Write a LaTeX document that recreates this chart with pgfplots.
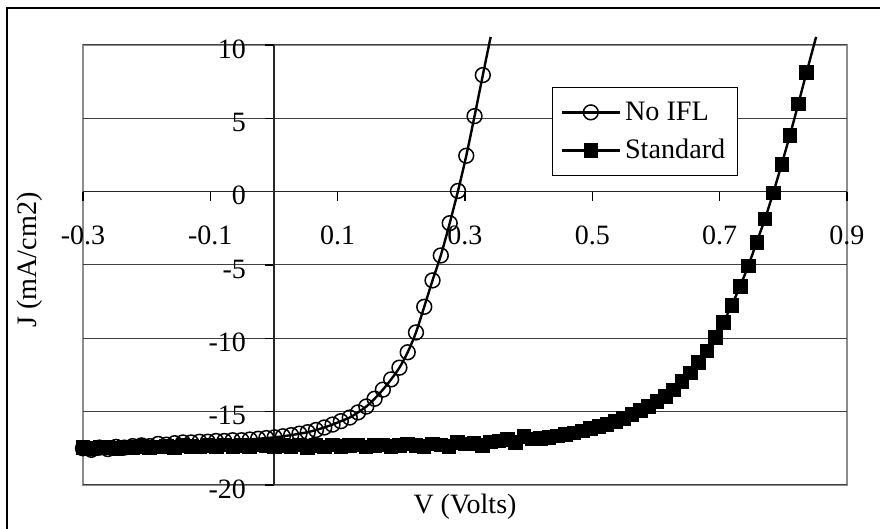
\documentclass[border=0pt]{standalone}
\usepackage{pgfplots}
\pgfplotsset{compat=1.18}
\usepackage{pgfplotstable}
\usepackage{fontspec}
\setmainfont{Liberation Serif}

\pgfplotstableread{
V J
-0.300 -17.50
-0.287 -17.60
-0.274 -17.45
-0.261 -17.55
-0.248 -17.40
-0.235 -17.45
-0.222 -17.35
-0.208 -17.30
-0.195 -17.35
-0.182 -17.20
-0.169 -17.25
-0.156 -17.15
-0.143 -17.10
-0.130 -17.10
-0.117 -17.05
-0.104 -17.05
-0.091 -17.00
-0.078 -17.00
-0.065 -16.95
-0.051 -16.95
-0.038 -16.90
-0.025 -16.85
-0.012 -16.80
0.001 -16.75
0.014 -16.68
0.027 -16.60
0.040 -16.50
0.053 -16.40
0.066 -16.25
0.079 -16.08
0.092 -15.88
0.105 -15.65
0.119 -15.40
0.132 -15.05
0.145 -14.65
0.158 -14.12
0.171 -13.50
0.184 -12.80
0.197 -12.00
0.210 -10.95
0.223 -9.60
0.236 -7.85
0.249 -6.05
0.262 -4.35
0.276 -2.15
0.289 0.05
0.302 2.45
0.315 5.15
0.328 7.95
}\noifl

\pgfplotstableread{
V J
0.328 7.95
0.3403 10.55
}\noiflext

\pgfplotstableread{
V J
-0.3000 -17.45
-0.2869 -17.50
-0.2739 -17.40
-0.2608 -17.45
-0.2477 -17.50
-0.2347 -17.40
-0.2216 -17.45
-0.2086 -17.35
-0.1955 -17.45
-0.1824 -17.40
-0.1694 -17.35
-0.1563 -17.45
-0.1432 -17.30
-0.1302 -17.35
-0.1171 -17.40
-0.1041 -17.30
-0.0910 -17.35
-0.0779 -17.25
-0.0649 -17.40
-0.0518 -17.30
-0.0387 -17.35
-0.0257 -17.25
-0.0126 -17.30
0.0004 -17.40
0.0135 -17.30
0.0266 -17.35
0.0396 -17.25
0.0527 -17.45
0.0658 -17.30
0.0788 -17.40
0.0919 -17.25
0.1050 -17.35
0.1180 -17.30
0.1311 -17.25
0.1441 -17.40
0.1572 -17.30
0.1703 -17.25
0.1833 -17.35
0.1964 -17.30
0.2095 -17.20
0.2225 -17.30
0.2356 -17.35
0.2486 -17.20
0.2617 -17.25
0.2748 -17.35
0.2878 -17.10
0.3009 -17.20
0.3139 -17.15
0.3270 -17.30
0.3401 -17.05
0.3531 -17.00
0.3662 -16.90
0.3793 -17.10
0.3923 -16.70
0.4054 -16.85
0.4184 -16.80
0.4315 -16.75
0.4446 -16.65
0.4576 -16.55
0.4707 -16.45
0.4838 -16.30
0.4968 -16.15
0.5099 -16.00
0.5230 -15.85
0.5360 -15.65
0.5491 -15.45
0.5622 -15.20
0.5752 -14.90
0.5883 -14.65
0.6013 -14.30
0.6144 -13.95
0.6275 -13.50
0.6405 -12.95
0.6536 -12.35
0.6667 -11.65
0.6797 -10.85
0.6928 -9.95
0.7058 -8.90
0.7189 -7.75
0.7320 -6.45
0.7450 -5.05
0.7581 -3.45
0.7712 -1.85
0.7842 -0.07
0.7973 1.85
0.8104 3.86
0.8235 5.98
0.8365 8.14
}\standard

\pgfplotstableread{
V J
0.8365 8.14
0.8515 10.55
}\standardext

\begin{document}
\begin{tikzpicture}
\begin{axis}[
  at={(0,0)}, anchor=south west,
  scale only axis, width=382pt, height=220pt,
  xmin=-0.3, xmax=0.9, ymin=-20, ymax=10,
  axis lines=middle,
  axis line style={-, black!85, line width=0.6pt},
  axis background/.style={draw=black!45, line width=0.9pt},
  xtick={-0.3,-0.1,0.1,0.3,0.5,0.7,0.9},
  xticklabels={-0.3,-0.1,0.1,0.3,0.5,0.7,0.9},
  ytick={-20,-15,-10,-5,0,5,10},
  yticklabels={-20,-15,-10,-5,0,5,10},
  hide obscured x ticks=false,
  hide obscured y ticks=false,
  tick align=outside,
  major tick length=4.5pt,
  tick style={black, line width=0.6pt},
  ymajorgrids, grid style={black!75, line width=0.5pt},
  ticklabel style={font=\fontsize{14}{16}\selectfont},
  xticklabel style={yshift=-9pt},
  yticklabel style={xshift=-6pt, yshift=-2pt},
  clip=false,
  legend style={at={(rel axis cs:0.6139,0.9045)}, anchor=north west,
    draw=black, line width=0.6pt, fill=white,
    font=\fontsize{14.1}{17}\selectfont,
    inner xsep=4pt, inner ysep=5pt, row sep=4pt},
  legend cell align=left,
  legend image code/.code={\draw[mark repeat=2,mark phase=2,#1] plot coordinates {(0pt,0pt) (14.5pt,0pt) (29pt,0pt)};},
]
\addplot[black, line width=1.2pt, smooth, mark=o, mark size=3.7pt, mark options={line width=0.75pt, solid}] table[x=V,y=J] {\noifl};
\addlegendentry{No IFL}
\addplot[black, line width=1.2pt, smooth, mark=square*, mark size=3.4pt, mark options={solid, line width=0.3pt}] table[x=V,y=J] {\standard};
\addlegendentry{Standard}
\addplot[black, line width=1.2pt, forget plot] table[x=V,y=J] {\noiflext};
\addplot[black, line width=1.2pt, forget plot] table[x=V,y=J] {\standardext};
\node[font=\fontsize{14}{16}\selectfont, anchor=north, inner sep=0pt] at (rel axis cs:0.5,-0.02) {V (Volts)};
\node[font=\fontsize{14.1}{17}\selectfont, rotate=90, inner sep=0pt] at (rel axis cs:-0.06937,0.5114) {J (mA/cm2)};
\end{axis}
\draw[line width=1pt] (-38pt,-40pt) -- (-38pt,238.5pt) -- (420pt,238.5pt);
\pgfresetboundingbox
\useasboundingbox (-41.5pt,-22pt) rectangle (398.5pt,242.5pt);
\end{tikzpicture}
\end{document}
